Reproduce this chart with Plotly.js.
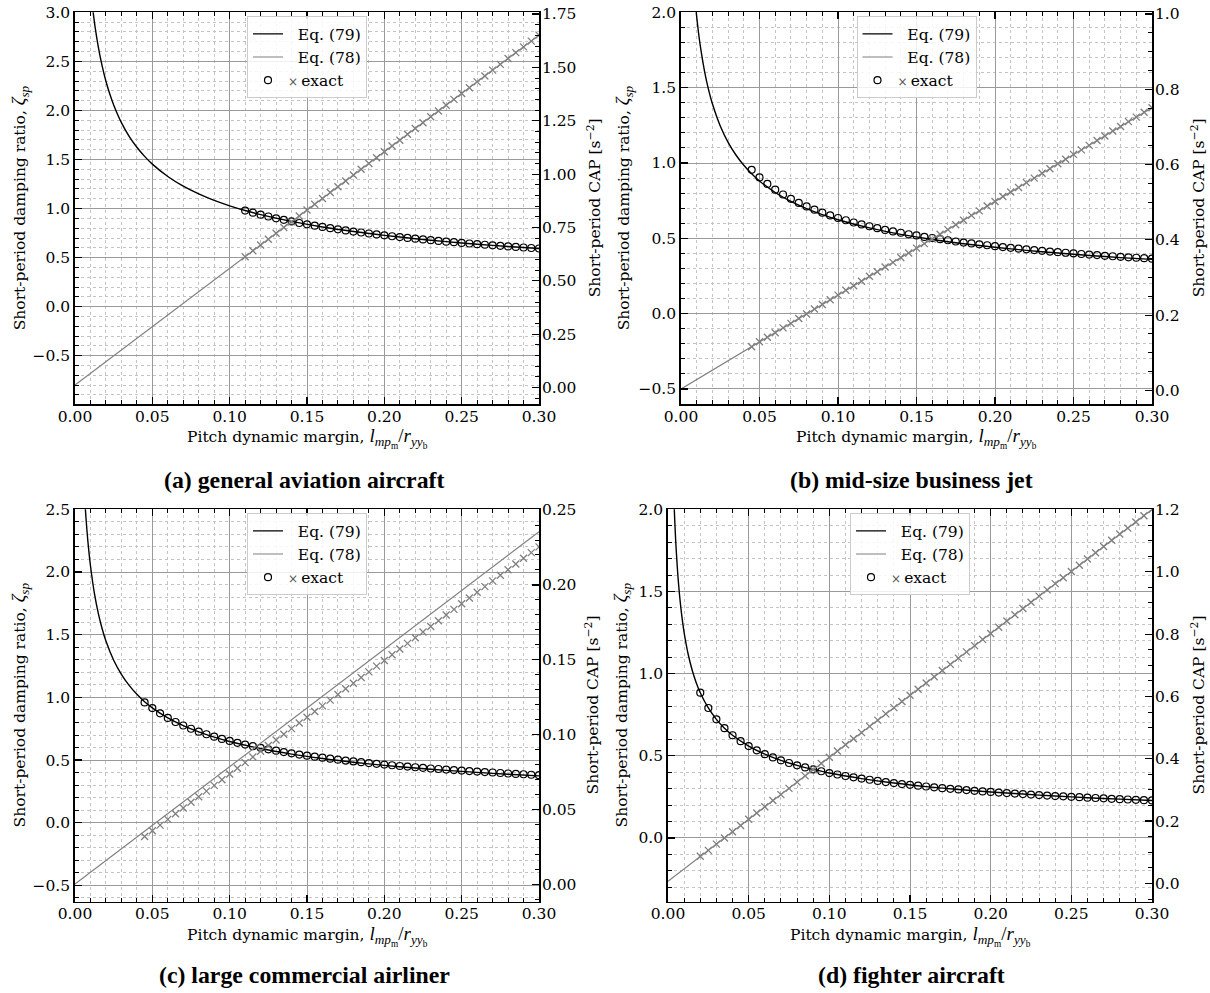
<!DOCTYPE html>
<html><head><meta charset="utf-8">
<script src="https://cdn.plot.ly/plotly-3.0.1.min.js"></script>
<style>html,body{margin:0;padding:0;background:#fff;} #chart{width:1210px;height:993px;}</style>
</head><body><div id="chart"></div>
<script>
// ---------------- DATA ----------------
const X_EXACT = [0.020,0.025,0.030,0.035,0.040,0.045,0.050,0.055,0.060,0.065,
  0.070,0.075,0.080,0.085,0.090,0.095,0.100,0.105,0.110,0.115,
  0.120,0.125,0.130,0.135,0.140,0.145,0.150,0.155,0.160,0.165,
  0.170,0.175,0.180,0.185,0.190,0.195,0.200,0.205,0.210,0.215,
  0.220,0.225,0.230,0.235,0.240,0.245,0.250,0.255,0.260,0.265,
  0.270,0.275,0.280,0.285,0.290,0.295,0.300];

const LEGEND_NAMES = ['Eq. (79)', 'Eq. (78)', 'exact'];
const CAPTIONS = ['(a) general aviation aircraft','(b) mid-size business jet','(c) large commercial airliner','(d) fighter aircraft'];

// (a) general aviation aircraft
const A_EQ79_X = [0.011,0.01174,0.013,0.015,0.0175,0.02,0.0225,0.025,0.03,0.035,0.04,0.045,0.05,0.06,0.07,0.08,0.09,0.10,0.11,0.12,0.14,0.16,0.18,0.20,0.22,0.24,0.26,0.28,0.30];
const A_EQ79_Y = [3.099,3.0,2.850,2.654,2.457,2.298,2.167,2.056,1.876,1.737,1.625,1.532,1.453,1.327,1.228,1.149,1.083,1.028,0.980,0.938,0.869,0.8125,0.766,0.727,0.693,0.663,0.637,0.614,0.593];
const A_EQ78_X = [0, 0.30];
const A_EQ78_Y = [0.0127, 1.651];
const A_EXACT_X = X_EXACT.slice(18);
const A_EXACT_ZETA = [0.980,0.958,0.938,0.919,0.901,0.885,0.869,0.853,0.839,0.826,
  0.813,0.800,0.788,0.777,0.766,0.756,0.746,0.736,0.727,
  0.718,0.709,0.701,0.693,0.685,0.678,0.670,0.663,0.657,0.650,
  0.644,0.637,0.631,0.625,0.620,0.614,0.609,0.603,0.598,0.593];
const A_EXACT_CAP = [0.613,0.641,0.668,0.695,0.723,0.750,0.777,0.804,0.832,0.859,
  0.886,0.914,0.941,0.968,0.996,1.023,1.050,1.077,1.105,1.132,
  1.159,1.187,1.214,1.241,1.269,1.296,1.323,1.350,1.378,1.405,
  1.432,1.460,1.487,1.514,1.542,1.569,1.596,1.623,1.651];

// (b) mid-size business jet
const B_EQ79_X = [0.009,0.0097,0.011,0.0125,0.015,0.0175,0.02,0.025,0.03,0.035,0.04,0.045,0.05,0.06,0.07,0.08,0.09,0.10,0.12,0.14,0.16,0.18,0.20,0.22,0.24,0.26,0.28,0.30];
const B_EQ79_Y = [2.077,2.0,1.878,1.762,1.609,1.489,1.393,1.246,1.137,1.053,0.985,0.929,0.881,0.804,0.745,0.697,0.657,0.623,0.569,0.526,0.4925,0.464,0.4405,0.420,0.402,0.386,0.372,0.360];
const B_EQ78_X = [0, 0.30];
const B_EQ78_Y = [0.004, 0.751];
const B_EXACT_X = X_EXACT.slice(5);
const B_EXACT_ZETA = [0.955,0.904,0.861,0.823,0.791,0.762,0.735,0.712,0.690,0.670,
  0.652,0.635,0.620,0.605,0.592,0.580,0.567,0.556,0.546,0.537,
  0.527,0.519,0.509,0.502,0.494,0.487,0.479,0.472,0.466,0.460,
  0.454,0.448,0.442,0.437,0.432,0.427,0.422,0.417,0.412,0.408,
  0.404,0.400,0.396,0.392,0.389,0.384,0.381,0.377,0.374,0.371,
  0.368,0.365];
const B_EXACT_CAP = [0.116,0.129,0.141,0.153,0.166,0.178,0.191,0.203,0.216,0.228,
  0.241,0.253,0.266,0.278,0.290,0.303,0.315,0.328,0.340,0.353,
  0.365,0.378,0.390,0.402,0.415,0.427,0.440,0.452,0.465,0.477,
  0.490,0.502,0.515,0.527,0.539,0.552,0.564,0.577,0.589,0.602,
  0.614,0.627,0.639,0.651,0.664,0.676,0.689,0.701,0.714,0.726,
  0.739,0.751];

// (c) large commercial airliner
const C_EQ79_X = [0.006,0.0067,0.0075,0.0085,0.01,0.0125,0.015,0.0175,0.02,0.025,0.03,0.035,0.04,0.045,0.05,0.06,0.07,0.08,0.09,0.10,0.12,0.14,0.16,0.18,0.20,0.22,0.24,0.26,0.28,0.30];
const C_EQ79_Y = [2.647,2.504,2.367,2.223,2.05,1.834,1.674,1.550,1.450,1.297,1.184,1.096,1.025,0.966,0.917,0.837,0.775,0.725,0.683,0.648,0.592,0.548,0.5125,0.483,0.458,0.437,0.418,0.402,0.387,0.374];
const C_EQ78_X = [0, 0.30];
const C_EQ78_Y = [0.0003, 0.2355];
const C_EXACT_X = X_EXACT.slice(5);
const C_EXACT_ZETA = [0.960,0.915,0.873,0.836,0.804,0.776,0.750,0.727,0.706,0.687,
  0.669,0.653,0.638,0.624,0.611,0.598,0.586,0.575,0.564,0.554,
  0.544,0.535,0.527,0.519,0.511,0.503,0.496,0.489,0.483,0.476,
  0.470,0.464,0.459,0.453,0.448,0.443,0.438,0.433,0.429,0.424,
  0.420,0.416,0.412,0.408,0.404,0.401,0.397,0.393,0.390,0.387,
  0.383,0.380];
const C_EXACT_CAP = [0.0321,0.0359,0.0397,0.0435,0.0473,0.0511,0.0549,0.0586,0.0624,0.0662,
  0.0700,0.0738,0.0776,0.0814,0.0852,0.0890,0.0928,0.0965,0.1003,0.1041,
  0.1079,0.1117,0.1155,0.1193,0.1231,0.1269,0.1307,0.1344,0.1382,0.1420,
  0.1458,0.1496,0.1534,0.1572,0.1610,0.1648,0.1686,0.1723,0.1761,0.1799,
  0.1837,0.1875,0.1913,0.1951,0.1989,0.2027,0.2065,0.2102,0.2140,0.2178,
  0.2216,0.2254];

// (d) fighter aircraft
const D_EQ79_X = [0.0035,0.0039,0.0045,0.005,0.006,0.007,0.008,0.009,0.01,0.0125,0.015,0.0175,0.02,0.025,0.03,0.035,0.04,0.05,0.06,0.07,0.08,0.09,0.10,0.12,0.14,0.16,0.18,0.20,0.22,0.24,0.26,0.28,0.30];
const D_EQ79_Y = [2.113,2.0,1.863,1.768,1.614,1.494,1.398,1.318,1.25,1.118,1.021,0.945,0.884,0.791,0.722,0.668,0.625,0.559,0.510,0.472,0.442,0.417,0.395,0.361,0.334,0.3125,0.295,0.280,0.267,0.255,0.245,0.236,0.228];
const D_EQ78_X = [0, 0.30];
const D_EQ78_Y = [0.007, 1.200];
const D_EXACT_X = X_EXACT;
const D_EXACT_ZETA = [0.884,0.791,0.722,0.668,0.625,0.589,0.559,0.533,0.510,0.490,
  0.472,0.456,0.442,0.429,0.417,0.406,0.395,0.386,0.377,0.369,
  0.361,0.354,0.347,0.340,0.334,0.328,0.323,0.318,0.313,0.308,
  0.303,0.299,0.295,0.291,0.287,0.283,0.280,0.276,0.273,0.270,
  0.267,0.264,0.261,0.258,0.255,0.253,0.250,0.248,0.245,0.243,
  0.241,0.238,0.236,0.234,0.232,0.230,0.228];
const D_EXACT_CAP = [0.087,0.106,0.126,0.146,0.166,0.186,0.206,0.226,0.246,0.266,
  0.285,0.305,0.325,0.345,0.365,0.385,0.405,0.425,0.445,0.464,
  0.484,0.504,0.524,0.544,0.564,0.584,0.604,0.623,0.643,0.663,
  0.683,0.703,0.723,0.743,0.763,0.783,0.802,0.822,0.842,0.862,
  0.882,0.902,0.922,0.942,0.962,0.981,1.001,1.021,1.041,1.061,
  1.081,1.101,1.121,1.140,1.160,1.180,1.200];

// ---------------- LAYOUT / STYLE ----------------
const W = 1210, H = 993;
const px = p => p / W, py = p => 1 - p / H;
const SERIF = 'DejaVu Serif, serif';
const TICKFONT = {family: SERIF, size: 15.5, color: '#000'};
const MATH = 'font-family:Liberation Serif;font-size:19px';
const XTITLE = 'Pitch dynamic margin, <span style="' + MATH + '"><i>l</i><sub><i>mp</i><sub>m</sub></sub>/<i>r</i><sub><i>yy</i><sub>b</sub></sub></span>';
const YLTITLE = 'Short-period damping ratio, <span style="' + MATH + '"><i>ζ</i><sub><i>sp</i></sub></span>';
const YRTITLE = 'Short-period CAP [s<sup>−2</sup>]';

const panels = [
  {d: [A_EQ79_X, A_EQ79_Y, A_EQ78_X, A_EQ78_Y, A_EXACT_X, A_EXACT_ZETA, A_EXACT_CAP],
   xpx: [75, 539], ypx: [12.3, 404.3], yl: [-0.995, 3.0005], yr: [-0.078, 1.758], rd: 0.25, rm: 0.05, rf: '.2f',
   ylt: 20, yrt: 594, cap: [304, 480]},
  {d: [B_EQ79_X, B_EQ79_Y, B_EQ78_X, B_EQ78_Y, B_EXACT_X, B_EXACT_ZETA, B_EXACT_CAP],
   xpx: [681, 1152], ypx: [12.3, 404.3], yl: [-0.602, 2.0005], yr: [-0.037, 1.0045], rd: 0.2, rm: 0.05, rf: '.1f',
   ylt: 624, yrt: 1198, cap: [911, 480]},
  {d: [C_EQ79_X, C_EQ79_Y, C_EQ78_X, C_EQ78_Y, C_EXACT_X, C_EXACT_ZETA, C_EXACT_CAP],
   xpx: [75, 539], ypx: [509.3, 901.5], yl: [-0.628, 2.5005], yr: [-0.0113, 0.2505], rd: 0.05, rm: 0.01, rf: '.2f',
   ylt: 20, yrt: 592, cap: [304, 975]},
  {d: [D_EQ79_X, D_EQ79_Y, D_EQ78_X, D_EQ78_Y, D_EXACT_X, D_EXACT_ZETA, D_EXACT_CAP],
   xpx: [668, 1152], ypx: [509.3, 901.5], yl: [-0.387, 2.0005], yr: [-0.058, 1.2005], rd: 0.2, rm: 0.05, rf: '.1f',
   ylt: 622, yrt: 1198, cap: [911, 975]}
];

const traces = [];
const layout = {
  width: W, height: H, margin: {l: 0, r: 0, t: 0, b: 0},
  paper_bgcolor: '#fff', plot_bgcolor: '#fff', showlegend: true,
  font: {family: SERIF, size: 15.5, color: '#000'},
  annotations: []
};

const commonTicks = {ticks: 'inside', ticklen: 7, tickwidth: 1.2, tickcolor: '#000',
  showline: true, linecolor: '#000', linewidth: 1.8, zeroline: false, tickfont: TICKFONT, fixedrange: true};

panels.forEach((p, i) => {
  const n = i + 1;
  const xs = n === 1 ? '' : String(n);
  const yL = 2 * i + 1, yR = 2 * i + 2;
  const yLs = yL === 1 ? '' : String(yL);
  const yRs = String(yR);
  const xName = 'x' + xs, yLName = 'y' + yLs, yRName = 'y' + yRs;
  const legName = n === 1 ? 'legend' : 'legend' + n;

  layout['xaxis' + xs] = Object.assign({}, commonTicks, {
    domain: [px(p.xpx[0]), px(p.xpx[1])], range: [0, 0.3], anchor: yLName,
    tick0: 0, dtick: 0.05, tickformat: '.2f', mirror: 'ticks', ticklabelstandoff: -3,
    showgrid: true, gridcolor: '#9a9a9a', gridwidth: 1,
    minor: {dtick: 0.01, ticks: 'inside', ticklen: 4, tickwidth: 1, tickcolor: '#000',
            showgrid: true, gridcolor: '#c4c4c4', griddash: 'dot', gridwidth: 1}
  });
  layout['yaxis' + yLs] = Object.assign({}, commonTicks, {
    domain: [py(p.ypx[1]), py(p.ypx[0])], range: p.yl, anchor: xName,
    tick0: 0, dtick: 0.5, tickformat: '.1f',
    showgrid: true, gridcolor: '#9a9a9a', gridwidth: 1,
    minor: {dtick: 0.1, ticks: 'inside', ticklen: 4, tickwidth: 1, tickcolor: '#000',
            showgrid: true, gridcolor: '#c4c4c4', griddash: 'dot', gridwidth: 1}
  });
  layout['yaxis' + yRs] = Object.assign({}, commonTicks, {
    overlaying: yLName, side: 'right', anchor: xName, range: p.yr,
    tick0: 0, dtick: p.rd, tickformat: p.rf, showgrid: false, ticklabelstandoff: -2,
    minor: {dtick: p.rm, ticks: 'inside', ticklen: 4, tickwidth: 1, tickcolor: '#000', showgrid: false}
  });

  const cx = (p.xpx[0] + p.xpx[1]) / 2;
  layout[legName] = {
    x: px(cx), xanchor: 'center', y: py(p.ypx[0] + 4), yanchor: 'top',
    bgcolor: 'rgba(255,255,255,0.85)', bordercolor: '#cccccc', borderwidth: 1,
    font: {family: SERIF, size: 15.5, color: '#000'}, traceorder: 'normal'
  };

  const [lx, ly, gx, gy, ex, ez, ec] = p.d;
  traces.push({type: 'scatter', mode: 'lines', x: lx, y: ly, xaxis: xName, yaxis: yLName,
    line: {color: '#000', width: 1.4, shape: 'spline', smoothing: 0.8},
    name: '\u00a0\u00a0' + LEGEND_NAMES[0], legend: legName, legendrank: 1});
  traces.push({type: 'scatter', mode: 'markers', x: ex, y: ez, xaxis: xName, yaxis: yLName,
    marker: {symbol: 'circle-open', size: 7, color: '#000', line: {width: 1.2, color: '#000'}},
    name: '<span style="color:#555;font-size:12px">×</span>\u2009' + LEGEND_NAMES[2], legend: legName, legendrank: 3});
  traces.push({type: 'scatter', mode: 'lines', x: gx, y: gy, xaxis: xName, yaxis: yRName,
    line: {color: '#808080', width: 1.2},
    name: '\u00a0\u00a0' + LEGEND_NAMES[1], legend: legName, legendrank: 2});
  traces.push({type: 'scatter', mode: 'markers', x: ex, y: ec, xaxis: xName, yaxis: yRName,
    marker: {symbol: 'x-thin-open', size: 7, color: '#808080', line: {width: 1.3, color: '#808080'}},
    showlegend: false, name: 'exact CAP', legend: legName});

  const ycen = (p.ypx[0] + p.ypx[1]) / 2;
  const ann = (x, y, text, extra) => layout.annotations.push(Object.assign({
    xref: 'paper', yref: 'paper', x: px(x), y: py(y), text: text, showarrow: false,
    xanchor: 'center', yanchor: 'middle', font: {family: SERIF, size: 15.5, color: '#000'}}, extra || {}));
  ann(cx, p.ypx[1] + 34, XTITLE);
  ann(p.ylt, ycen, YLTITLE, {textangle: -90});
  ann(p.yrt, ycen, YRTITLE, {textangle: -90});
  ann(p.cap[0], p.cap[1], '<b>' + CAPTIONS[i] + '</b>', {font: {family: 'Liberation Serif, serif', size: 23.8, color: '#000'}});
});

Plotly.newPlot('chart', traces, layout, {staticPlot: true, displayModeBar: false});
</script>
</body></html>
